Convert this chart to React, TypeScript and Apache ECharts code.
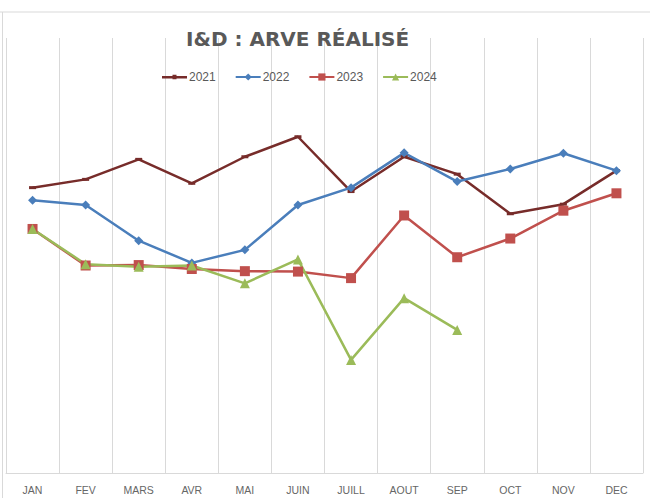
import React, { useEffect, useRef } from "react";
import * as echarts from "echarts";

const months = ["JAN", "FEV", "MARS", "AVR", "MAI", "JUIN", "JUILL", "AOUT", "SEP", "OCT", "NOV", "DEC"];
const s2021 = [65.6, 67.5, 72.1, 66.6, 72.7, 77.3, 64.7, 72.7, 68.7, 59.6, 61.8, 69.5];
const s2022 = [62.7, 61.6, 53.4, 48.3, 51.3, 61.6, 65.6, 73.6, 67.0, 69.9, 73.5, 69.5];
const s2023 = [56.1, 47.7, 47.8, 46.9, 46.4, 46.3, 44.8, 59.2, 49.6, 53.9, 60.3, 64.3];
const s2024 = [56.1, 48.0, 47.4, 47.7, 43.6, 49.1, 26.0, 40.2, 32.9];

const dashLegendIcon =
  "path://M0,3.5 L10.5,3.5 L10.5,2.3 L14.5,2.3 L14.5,3.5 L25,3.5 L25,6 L14.5,6 L14.5,6.7 L10.5,6.7 L10.5,6 L0,6 Z";

export default function App() {
  const ref = useRef<HTMLDivElement>(null);
  useEffect(() => {
    if (!ref.current) return;
    const chart = echarts.init(ref.current, null, { renderer: "svg" });
    const mk = (name: string, data: number[], color: string, symbol: string, size: any) => ({
      name,
      type: "line",
      data,
      symbol,
      symbolSize: size,
      showSymbol: true,
      lineStyle: { color, width: 2.5 },
      itemStyle: { color },
      emphasis: { disabled: true },
    });
    chart.setOption({
      animation: false,
      backgroundColor: "#ffffff",
      title: {
        text: "I&D : ARVE RÉALISÉ",
        left: 181,
        top: 24,
        textStyle: { fontFamily: "DejaVu Sans", fontWeight: "bold", fontSize: 20, color: "#595959" },
      },
      legend: {
        left: 157,
        top: 66,
        itemWidth: 25,
        itemHeight: 9,
        itemGap: 19,
        textStyle: { fontFamily: "Liberation Sans", fontSize: 12, color: "#595959", padding: [0, 0, 0, -3] },
        data: [{ name: "2021", icon: dashLegendIcon }, "2022", "2023", "2024"],
      },
      grid: { left: 6, right: 7, top: 38, bottom: 25, containLabel: false },
      xAxis: {
        type: "category",
        data: months,
        boundaryGap: true,
        axisLine: { show: true, lineStyle: { color: "#d9d9d9", width: 1 } },
        axisTick: { show: false },
        splitLine: { show: true, lineStyle: { color: "#d9d9d9", width: 1 } },
        axisLabel: { color: "#666666", fontSize: 10.5, fontFamily: "Liberation Sans", margin: 11 },
      },
      yAxis: {
        type: "value",
        min: 0,
        max: 100,
        show: false,
        splitLine: { show: false },
      },
      graphic: [
        { type: "line", shape: { x1: 0, y1: 12, x2: 650, y2: 12 }, style: { stroke: "#d9d9d9", lineWidth: 1 } },
        { type: "line", shape: { x1: 2.5, y1: 12, x2: 2.5, y2: 498 }, style: { stroke: "#d9d9d9", lineWidth: 1 } },
      ],
      series: [
        mk("2021", s2021, "#772C2A", "rect", [7, 3]),
        mk("2022", s2022, "#4A7EBB", "diamond", 9),
        mk("2023", s2023, "#C0504D", "rect", 10),
        mk("2024", s2024, "#9BBB59", "triangle", 10),
      ],
    });
    return () => chart.dispose();
  }, []);
  return <div ref={ref} style={{ width: 650, height: 498, position: "absolute", left: 0, top: 0 }} />;
}
